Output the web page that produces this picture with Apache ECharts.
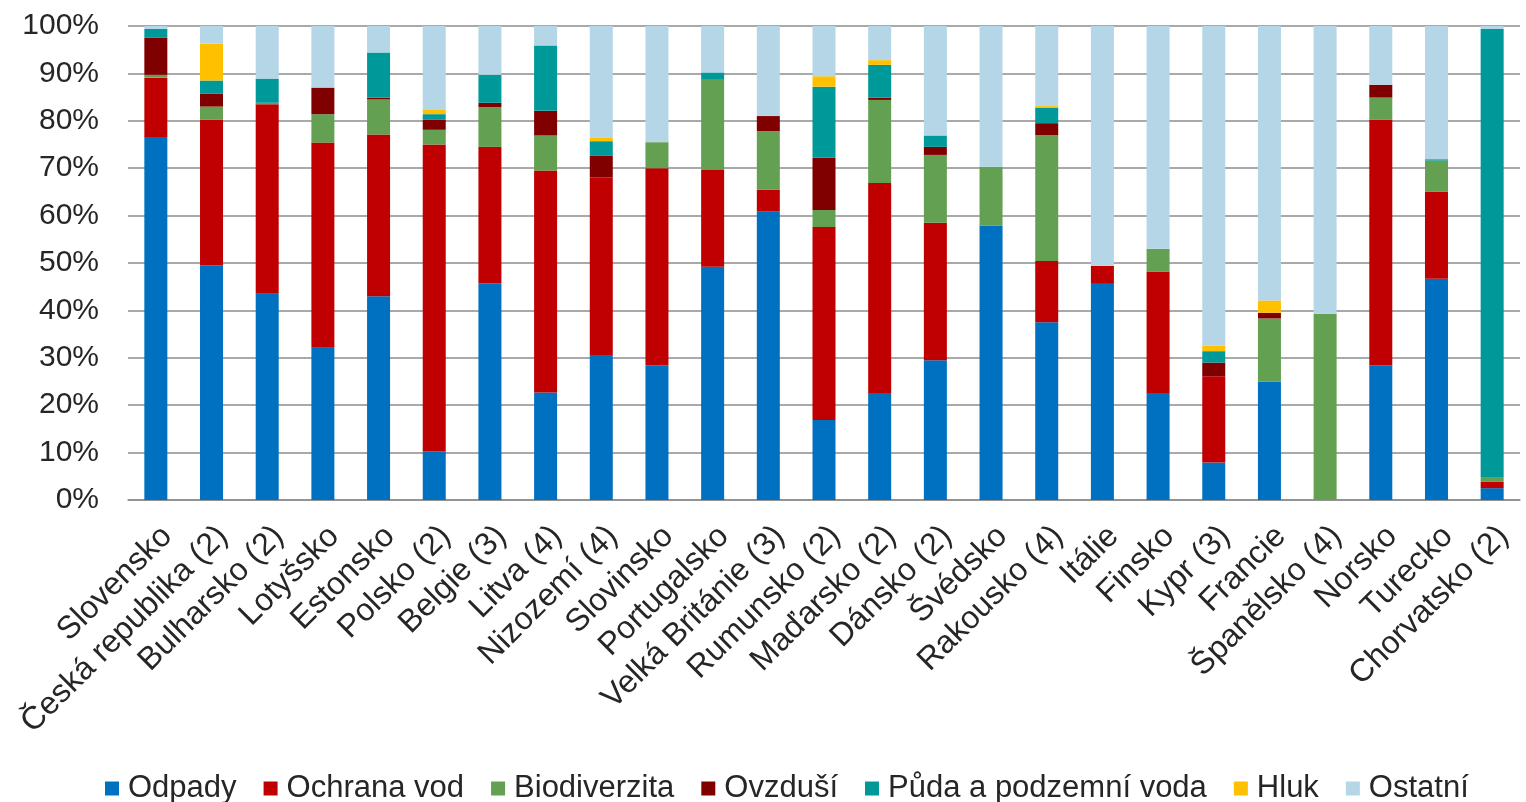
<!DOCTYPE html>
<html lang="cs">
<head>
    <meta charset="UTF-8">
    <title>Struktura výdajů na ochranu životního prostředí</title>
    <script src="https://cdn.jsdelivr.net/npm/echarts@6.0.0/dist/echarts.min.js"></script>
    <style>
        * {
            margin: 0;
            padding: 0;
        }

        body {
            background: #fff;
        }

        #chart-container {
            width: 1526px;
            height: 802px;
        }
    </style>
</head>
<body>
<div id="chart-container"></div>

<script>
    // státy
    const countries = ['Slovensko', 'Česká republika (2)', 'Bulharsko (2)', 'Lotyšsko', 'Estonsko',
        'Polsko (2)', 'Belgie (3)', 'Litva (4)', 'Nizozemí (4)', 'Slovinsko', 'Portugalsko',
        'Velká Británie (3)', 'Rumunsko (2)', 'Maďarsko (2)', 'Dánsko (2)', 'Švédsko',
        'Rakousko (4)', 'Itálie', 'Finsko', 'Kypr (3)', 'Francie', 'Španělsko (4)',
        'Norsko', 'Turecko', 'Chorvatsko (2)'];

    // podíly v % podle oblastí
    const odpady = [76.6, 49.5, 43.5, 32.1, 43.0, 10.3, 45.7, 22.7, 30.6, 28.4, 49.2, 60.9, 16.9,
        22.6, 29.5, 57.9, 37.5, 45.6, 22.6, 7.9, 25.0, 0, 28.4, 46.7, 2.5];
    const ochranaVod = [12.5, 30.8, 40.0, 43.3, 34.1, 64.7, 28.8, 46.8, 37.5, 41.6, 20.4, 4.6, 40.7,
        44.3, 29.0, 0, 12.9, 3.8, 25.6, 18.2, 0, 0, 51.8, 18.3, 1.4];
    const biodiverzita = [0.6, 2.7, 0.3, 6.0, 7.4, 3.1, 8.4, 7.4, 0, 5.5, 19.2, 12.3, 3.6,
        17.5, 14.3, 12.4, 26.6, 0, 4.8, 0, 13.3, 39.3, 4.7, 6.6, 0.8];
    const ovzdusi = [7.8, 2.7, 0, 5.6, 0.4, 2.1, 0.9, 5.2, 4.5, 0, 0, 3.2, 11.0,
        0.5, 1.7, 0, 2.5, 0, 0, 2.9, 1.2, 0, 2.7, 0, 0];
    const puda = [1.9, 2.8, 5.1, 0, 9.5, 1.2, 5.9, 13.8, 3.1, 0, 1.4, 0, 15.0,
        6.9, 2.4, 0, 3.3, 0, 0, 2.4, 0, 0, 0, 0.3, 94.7];
    const hluk = [0, 7.8, 0, 0, 0, 0.9, 0, 0, 0.8, 0, 0, 0, 2.2,
        1.0, 0, 0, 0.3, 0, 0, 1.2, 2.6, 0, 0, 0, 0];
    const ostatni = [0.6, 3.7, 11.1, 13.0, 5.6, 17.7, 10.3, 4.1, 23.5, 24.5, 9.8, 19.0, 10.6,
        7.2, 23.1, 29.7, 16.9, 50.6, 47.0, 67.4, 57.9, 60.7, 12.4, 28.1, 0.6];

    const yTicks = [0, 10, 20, 30, 40, 50, 60, 70, 80, 90, 100];

    const fontName = '"Liberation Sans", Arial, sans-serif';
    const textColor = '#262626';

    function createSeries(name, values, color) {
        return {
            name: name,
            type: 'bar',
            stack: 'total',
            barWidth: 23,
            itemStyle: {color: color},
            data: values
        };
    }

    let chartDom = document.getElementById('chart-container');
    let myChart = echarts.init(chartDom);

    let option = {
        animation: false,
        grid: {
            left: 128,
            right: 6,
            top: 26,
            bottom: 302
        },
        legend: {
            top: 768,
            left: 100,
            itemWidth: 14,
            itemHeight: 14,
            itemGap: 27,
            icon: 'rect',
            textStyle: {
                fontFamily: fontName,
                fontSize: 31,
                color: textColor,
                padding: [0, 0, 0, 4]
            }
        },
        xAxis: {
            type: 'category',
            data: countries,
            axisTick: {show: false},
            axisLine: {lineStyle: {color: '#8c8c8c', width: 1.5}},
            axisLabel: {
                rotate: 45,
                interval: 0,
                margin: 20,
                verticalAlign: 'top',
                fontFamily: fontName,
                fontSize: 32,
                color: textColor
            }
        },
        yAxis: {
            type: 'value',
            min: yTicks[0],
            max: yTicks[yTicks.length - 1],
            interval: 10,
            axisLine: {show: false},
            axisTick: {show: false},
            splitLine: {lineStyle: {color: '#8c8c8c', width: 1.5}},
            axisLabel: {
                formatter: '{value}%',
                margin: 29,
                fontFamily: fontName,
                fontSize: 30,
                color: textColor
            }
        },
        series: [
            createSeries('Odpady', odpady, '#0070C0'),
            createSeries('Ochrana vod', ochranaVod, '#C00000'),
            createSeries('Biodiverzita', biodiverzita, '#63A052'),
            createSeries('Ovzduší', ovzdusi, '#800000'),
            createSeries('Půda a podzemní voda', puda, '#009999'),
            createSeries('Hluk', hluk, '#FFC000'),
            createSeries('Ostatní', ostatni, '#B4D6E6')
        ]
    };

    option && myChart.setOption(option);
</script>
</body>
</html>
